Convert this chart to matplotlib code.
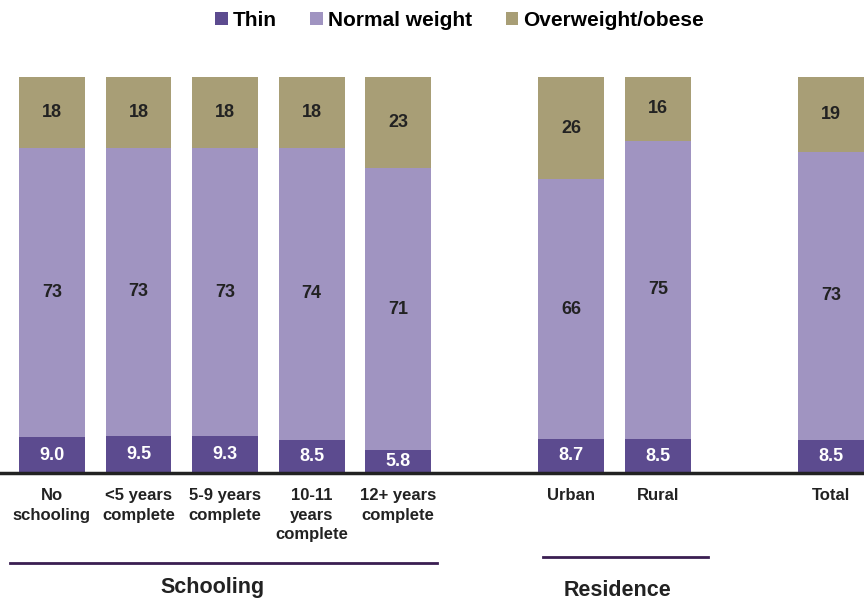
import matplotlib
matplotlib.use("Agg")
import matplotlib.pyplot as plt
import numpy as np

plt.rcParams["font.family"] = ["Liberation Sans", "DejaVu Sans"]
plt.rcParams["font.weight"] = "bold"

categories = ["No\nschooling", "<5 years\ncomplete", "5-9 years\ncomplete",
              "10-11\nyears\ncomplete", "12+ years\ncomplete",
              "Urban", "Rural", "Total"]
positions = [0, 1, 2, 3, 4, 6, 7, 9]
thin = [9.0, 9.5, 9.3, 8.5, 5.8, 8.7, 8.5, 8.5]
normal = [73, 73, 73, 74, 71, 66, 75, 73]
overweight = [18, 18, 18, 18, 23, 26, 16, 19]

C_THIN = "#5C4B8F"
C_NORMAL = "#A094C1"
C_OVER = "#A89E76"

# stacks are rounded, rescale each one so it fills 100 %
tot = np.array(thin) + np.array(normal) + np.array(overweight)
h_thin = np.array(thin) * 100 / tot
h_norm = np.array(normal) * 100 / tot
h_over = np.array(overweight) * 100 / tot

fig = plt.figure(figsize=(8.64, 6.02), dpi=100)
ax = fig.add_axes([0, 1 - 473 / 602, 1, (473 - 77) / 602])

w = 0.76
ax.bar(positions, h_thin, w, color=C_THIN, label="Thin")
ax.bar(positions, h_norm, w, bottom=h_thin, color=C_NORMAL, label="Normal weight")
ax.bar(positions, h_over, w, bottom=h_thin + h_norm, color=C_OVER,
       label="Overweight/obese")

for x, a, b, c, ha, hb, hc in zip(positions, thin, normal, overweight,
                                  h_thin, h_norm, h_over):
    ax.text(x, ha / 2, f"{a:.1f}", ha="center", va="center", color="white",
            fontsize=13, fontweight="bold")
    ax.text(x, ha + hb / 2, f"{b}", ha="center", va="center", color="#222222",
            fontsize=13, fontweight="bold")
    ax.text(x, ha + hb + hc / 2, f"{c}", ha="center", va="center",
            color="#222222", fontsize=13, fontweight="bold")

ax.set_xlim(-0.6, 9.38)
ax.set_ylim(0, 100)
ax.set_xticks(positions)
ax.set_xticklabels(categories, fontsize=12, fontweight="bold", color="#222222",
                   va="top", linespacing=1.38)
ax.tick_params(axis="x", length=0, pad=11)
ax.set_yticks([])
for s in ["top", "right", "left"]:
    ax.spines[s].set_visible(False)
ax.spines["bottom"].set_linewidth(2.5)
ax.spines["bottom"].set_color("#222222")

# group brackets
trans = matplotlib.transforms.blended_transform_factory(ax.transData, fig.transFigure)
ax.plot([-0.485, 4.45], [1 - 563 / 602] * 2, color="#3A1E52", lw=2,
        transform=trans, clip_on=False)
ax.text(1.85, 1 - 587 / 602, "Schooling", transform=trans, ha="center",
        va="center", fontsize=15.5, fontweight="bold", color="#222222")
ax.plot([5.67, 7.575], [1 - 557 / 602] * 2, color="#3A1E52", lw=2,
        transform=trans, clip_on=False)
ax.text(6.53, 1 - 591 / 602, "Residence", transform=trans, ha="center",
        va="center", fontsize=15.5, fontweight="bold", color="#222222")

fig.legend(loc="center", bbox_to_anchor=(0.532, 1 - 20 / 602), ncol=3,
           frameon=False, handlelength=0.6, handleheight=0.6,
           handletextpad=0.25, columnspacing=1.6,
           prop={"weight": "bold", "size": 15})

fig.savefig("out.png", dpi=100)
